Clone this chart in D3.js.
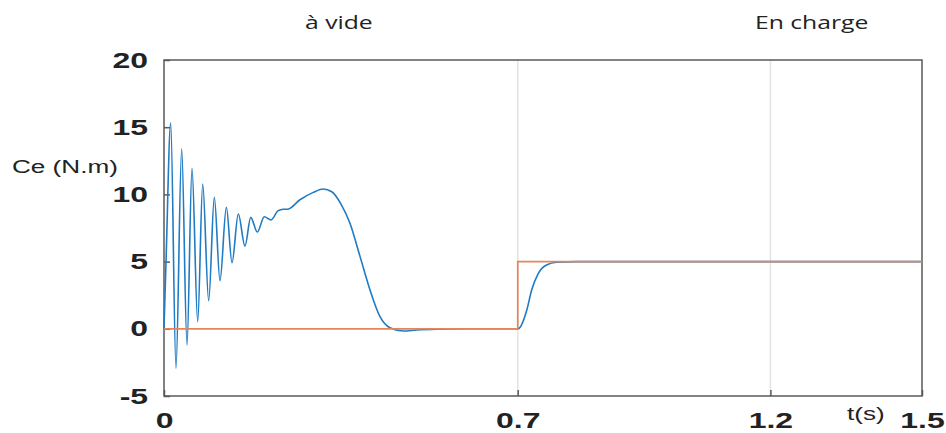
<!DOCTYPE html>
<html>
<head>
<meta charset="utf-8">
<script src="https://d3js.org/d3.v7.min.js"></script>
<style>
body { margin: 0; background: #fff; }
</style>
</head>
<body>
<script>
// time (s) and electromagnetic torque Ce (N.m)
const tBlue = [0, 0.004, 0.0133, 0.0237, 0.035, 0.0455, 0.0554, 0.0667, 0.0766, 0.0884, 0.0996, 0.1108,
  0.1234, 0.1346, 0.147, 0.1603, 0.1716, 0.1847, 0.1985, 0.2118, 0.226, 0.236, 0.245, 0.269, 0.2955,
  0.315, 0.332, 0.350, 0.368, 0.388, 0.4077, 0.4275, 0.447, 0.4736, 0.5, 0.55, 0.6, 0.65, 0.7,
  0.703, 0.718, 0.7277, 0.7408, 0.757, 0.777, 0.82, 1.0, 1.2, 1.5];
const ceBlue = [0, 5, 15.3, -2.94, 13.4, -1.2, 11.94, 0.53, 10.77, 2.09, 9.78, 3.58,
  9.04, 4.92, 8.54, 6.16, 8.29, 7.2, 8.34, 8.1, 8.79, 8.89, 8.9, 9.6, 10.15,
  10.4, 10.2, 9.3, 7.85, 5.37, 2.89, 0.9, 0.08, -0.16, -0.09, -0.03, 0, 0, 0,
  0.04, 1.4, 2.9, 4.13, 4.75, 4.95, 5, 5, 5, 5];
// load torque
const tLoad = [0, 0.7, 0.7, 1.5];
const ceLoad = [0, 0, 5, 5];

const xTicks = [0, 0.7, 1.2, 1.5];
const yTicks = [-5, 0, 5, 10, 15, 20];

const W = 946, H = 433;
const m = { left: 164, top: 60, right: 24, bottom: 37 };
const stretch = 1.45; // the reference picture is stretched sideways

const svg = d3.select("body").append("svg")
  .attr("width", W).attr("height", H)
  .style("font-family", "Liberation Sans, Arial, sans-serif");

const x = d3.scaleLinear().domain([0, 1.5]).range([m.left, W - m.right]);
const y = d3.scaleLinear().domain([-5, 20]).range([H - m.bottom, m.top]);

// vertical grid lines
svg.append("g").selectAll("line")
  .data([0.7, 1.2])
  .enter().append("line")
  .attr("x1", d => x(d)).attr("x2", d => x(d))
  .attr("y1", y(-5)).attr("y2", y(20))
  .attr("stroke", "#e3e3e3").attr("stroke-width", 1.5);

// box
svg.append("rect")
  .attr("x", x(0)).attr("y", y(20))
  .attr("width", x(1.5) - x(0)).attr("height", y(-5) - y(20))
  .attr("fill", "none").attr("stroke", "#5a5a5a").attr("stroke-width", 1.5);

// axes with inward ticks
const xAxis = svg.append("g")
  .attr("transform", "translate(0," + y(-5) + ")")
  .call(d3.axisBottom(x).tickValues(xTicks).tickSize(-6)
    .tickFormat(d => d === 0 ? "0" : d3.format(".1f")(d)));
const yAxis = svg.append("g")
  .attr("transform", "translate(" + x(0) + ",0)")
  .call(d3.axisLeft(y).tickValues(yTicks).tickSize(-6).tickPadding(16)
    .tickFormat(d => String(d)));

[xAxis, yAxis].forEach(g => {
  g.select(".domain").remove();
  g.selectAll(".tick line").attr("stroke", "#5a5a5a").attr("stroke-width", 1.5);
  g.selectAll(".tick text")
    .attr("fill", "#222").style("font-size", "22px").style("font-weight", "bold")
    .style("font-family", "Liberation Sans, Arial, sans-serif");
});
xAxis.selectAll(".tick text").attr("y", 32).attr("dy", null);

const line = d3.line().x(d => x(d[0])).y(d => y(d[1]));

svg.append("path")
  .datum(d3.zip(tBlue, ceBlue))
  .attr("fill", "none").attr("stroke", "#1f7bc4").attr("stroke-width", 1.6)
  .attr("d", line.curve(d3.curveMonotoneX));

svg.append("path")
  .datum(d3.zip(tLoad, ceLoad))
  .attr("fill", "none").attr("stroke", "#E4865A").attr("stroke-width", 1.7)
  .attr("d", line.curve(d3.curveLinear));

// labels
svg.append("text").attr("x", 12).attr("y", 173)
  .style("font-size", "18px").attr("fill", "#222").text("Ce (N.m)");
svg.append("text").attr("x", 847).attr("y", 420)
  .style("font-size", "18px").attr("fill", "#222").text("t(s)");
svg.append("text").attr("x", 305).attr("y", 29)
  .style("font-family", "Open Sans, sans-serif").style("font-size", "19px").attr("fill", "#222").text("à vide");
svg.append("text").attr("x", 755).attr("y", 29)
  .style("font-family", "Open Sans, sans-serif").style("font-size", "19px").attr("fill", "#222").text("En charge");

// widen every text like in the reference
svg.selectAll("text").each(function () {
  const s = d3.select(this);
  const f = this.style.fontFamily.indexOf("Open Sans") >= 0 ? 1.3 : stretch;
  s.attr("textLength", this.getComputedTextLength() * f).attr("lengthAdjust", "spacingAndGlyphs");
});
</script>
</body>
</html>
